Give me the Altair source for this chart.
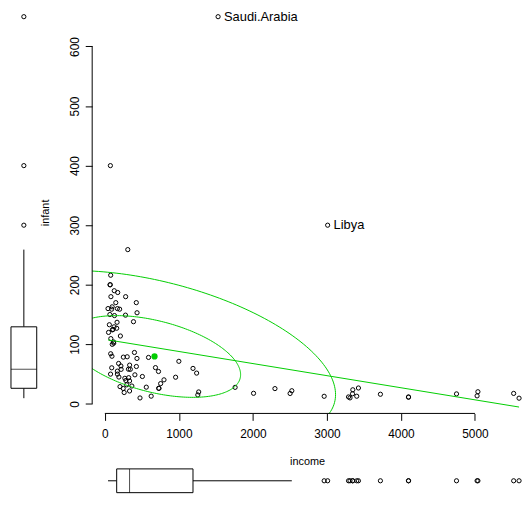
import numpy as np
import pandas as pd
import altair as alt

country = [
    "Australia", "Austria", "Belgium", "Canada", "Denmark", "Finland", "France",
    "West.Germany", "Ireland", "Italy", "Japan", "Netherlands", "New.Zealand",
    "Norway", "Portugal", "Sweden", "Switzerland", "Britain", "United.States",
    "Algeria", "Ecuador", "Indonesia", "Iraq", "Libya", "Nigeria", "Saudi.Arabia",
    "Venezuela",
    "Argentina", "Brazil", "Chile", "Colombia", "Costa.Rica", "Dominican.Republic",
    "El.Salvador", "Guatemala", "Haiti", "Honduras", "Jamaica", "Mexico", "Nicaragua",
    "Panama", "Paraguay", "Peru", "Trinidad.and.Tobago", "Uruguay",
    "Spain", "Greece", "Israel", "Turkey",
    "Afghanistan", "Burma", "Ceylon", "Taiwan", "India", "South.Korea", "Malaysia",
    "Pakistan", "Philippines", "Singapore", "Syria", "Thailand", "Yemen", "Hong.Kong",
    "Jordan", "South.Vietnam",
    "Burundi", "Central.African.Republic", "Chad", "Congo", "Dahomey", "Egypt",
    "Ethiopia", "Guinea", "Ivory.Coast", "Kenya", "Liberia", "Madagascar", "Malawi",
    "Mali", "Mauritania", "Morocco", "Niger", "Rwanda", "Sierra.Leone", "Somalia",
    "South.Africa", "Sudan", "Tanzania", "Togo", "Tunisia", "Uganda", "Upper.Volta",
    "Zaire", "Zambia", "Cameroon", "Ghana", "Lesotho",
    "Botswana", "Senegal", "Gambia", "Lebanon",
]
income = [
    3426, 3350, 3346, 4751, 5029, 3312, 3403,
    5040, 2009, 2298, 3292, 4103, 3723,
    4102, 956, 5596, 2963, 2503, 5523,
    400, 250, 110, 560, 3010, 220, 1530,
    1240,
    1191, 425, 590, 426, 725, 406,
    319, 302, 100, 284, 727, 684, 507,
    754, 334, 335, 732, 799,
    1256, 1760, 2526, 435,
    75, 73, 190, 261, 93, 344, 295,
    102, 186, 1268, 334, 205, 77, 626,
    475, 248,
    68, 127, 43, 281, 81, 210,
    79, 79, 387, 169, 200, 120, 130,
    50, 174, 279, 70, 61, 148, 92,
    1000, 125, 99, 160, 434, 170, 82,
    118, 310, 165, 217, 96,
    270, 322, 170, 365,
]
infant = [
    26.7, 23.7, 17.0, 16.8, 13.5, 10.1, 12.9,
    20.4, 17.8, 25.7, 11.7, 11.6, 16.2,
    11.3, 44.8, 9.6, 12.8, 17.5, 17.6,
    86.3, 78.5, 125.0, 28.1, 300.0, 58.0, 650.0,
    51.7,
    59.6, 170.0, 78.0, 62.8, 54.4, 48.8,
    58.2, 79.1, 100.0, 39.3, 26.2, 60.9, 46.0,
    34.1, 38.6, 65.1, 26.2, 40.4,
    15.1, 27.8, 22.1, 153.0,
    400.0, 200.0, 45.1, 19.1, 60.6, 58.0, 32.0,
    124.3, 67.9, 20.1, 21.7, 29.0, 50.0, 13.0,
    10.0, 26.0,
    150.0, 190.0, 160.0, 180.0, 109.6, 114.0,
    84.2, 216.0, 138.0, 55.0, 159.0, 102.0, 148.3,
    120.0, 187.0, 149.0, 200.0, 132.9, 170.0, 159.0,
    71.5, 129.4, 163.0, 127.0, 76.3, 160.0, 180.0,
    104.0, 259.0, 137.0, 63.7, 80.0,
    43.0, 44.0, 50.0, 30.0,
]

XTICKS = [0, 1000, 2000, 3000, 4000, 5000]
YTICKS = [0, 100, 200, 300, 400, 500, 600]
X_DOMAIN = [-171, 5636]
Y_DOMAIN = [-16, 659]
LEVELS = [0.5, 0.95]
GREEN = "#00CD00"
FONT = "Liberation Sans"
MAIN_W, MAIN_H = 434, 406
BOX_W = 26
BOTTOM_H = 24

df = pd.DataFrame({"country": country, "income": income, "infant": infant})
X = df[["income", "infant"]].to_numpy(float)
n, p = X.shape


def cov_trob(X, nu=5, maxit=25, tol=0.01):
    n, p = X.shape
    wt = np.ones(n)
    loc = X.mean(axis=0)
    w = np.ones(n)
    Xc = X - loc
    for _ in range(maxit):
        w0 = w
        Xc = X - loc
        A = np.sqrt(w / w.sum())[:, None] * Xc
        _, d, Vt = np.linalg.svd(A, full_matrices=False)
        wX = Xc @ Vt.T @ np.diag(1.0 / d)
        Q = (wX ** 2).sum(axis=1)
        w = wt * (nu + p) / (nu + Q)
        loc = (w[:, None] * X).sum(axis=0) / w.sum()
        if np.all(np.abs(w - w0) < tol):
            break
    sw = np.sqrt(w)[:, None] * Xc
    cov = sw.T @ sw / wt.sum()
    return loc, cov


loc, cov = cov_trob(X)
L = np.linalg.cholesky(cov)
t = np.linspace(0, 2 * np.pi, 241)
circle = np.column_stack([np.cos(t), np.sin(t)])
rows = []
for lev in LEVELS:
    fq = (n - 1) / 2.0 * ((1 - lev) ** (-2.0 / (n - 1)) - 1)  # qf(lev, 2, n-1)
    r = np.sqrt(2 * fq)
    pts = loc + r * circle @ L.T
    for k, (a, b) in enumerate(pts):
        rows.append({"level": str(lev), "k": k, "income": a, "infant": b})
ell_df = pd.DataFrame(rows)
cen_df = pd.DataFrame({"income": [loc[0]], "infant": [loc[1]]})

# label the two points farthest from the robust centre
Sinv = np.linalg.inv(cov)
D = np.einsum("ij,jk,ik->i", X - loc, Sinv, X - loc)
top = np.argsort(D)[-2:]
df["label"] = ""
df.loc[top, "label"] = df.loc[top, "country"]

xs = alt.Scale(domain=X_DOMAIN, nice=False, zero=False)
ys = alt.Scale(domain=Y_DOMAIN, nice=False, zero=False)
xaxis = alt.Axis(values=XTICKS, title="income", domain=False, grid=False, tickSize=7,
                 labelFontSize=12, labelPadding=8, titleFontSize=11, titlePadding=17,
                 format="d", labelFlush=False)
yaxis = alt.Axis(values=YTICKS, title="infant", domain=False, grid=False, tickSize=7,
                 labelAngle=-90, labelAlign="center", labelBaseline="middle",
                 labelPadding=11, labelFontSize=12, titleFontSize=11, titlePadding=18,
                 format="d")

X_ENC = alt.X("income:Q", scale=xs, axis=xaxis)
Y_ENC = alt.Y("infant:Q", scale=ys, axis=yaxis)

points = alt.Chart(df).mark_point(shape="circle", filled=False, color="black", size=18,
                                  strokeWidth=1, opacity=1).encode(x=X_ENC, y=Y_ENC)
reg = alt.Chart(df).transform_regression("income", "infant").mark_line(
    color=GREEN, strokeWidth=1).encode(x=X_ENC, y=Y_ENC)
ell = alt.Chart(ell_df).mark_line(color=GREEN, strokeWidth=1, clip=True).encode(
    x=X_ENC, y=Y_ENC, detail="level:N", order="k:Q")
cen = alt.Chart(cen_df).mark_point(shape="circle", filled=True, color=GREEN, size=40,
                                   opacity=1).encode(x=X_ENC, y=Y_ENC)
labels = alt.Chart(df).transform_filter(alt.datum.label != "").mark_text(
    align="left", baseline="middle", dx=6, fontSize=13, font=FONT, color="black"
).encode(x=X_ENC, y=Y_ENC, text="label:N")

xline_df = pd.DataFrame({"a": [min(XTICKS)], "b": [max(XTICKS)], "y": [Y_DOMAIN[0]]})
yline_df = pd.DataFrame({"a": [min(YTICKS)], "b": [max(YTICKS)], "x": [X_DOMAIN[0]]})
xline = alt.Chart(xline_df).mark_rule(color="black", strokeWidth=1).encode(
    x=alt.X("a:Q", scale=xs, axis=xaxis), x2="b:Q", y=alt.Y("y:Q", scale=ys, axis=yaxis))
yline = alt.Chart(yline_df).mark_rule(color="black", strokeWidth=1).encode(
    y=alt.Y("a:Q", scale=ys, axis=yaxis), y2="b:Q", x=alt.X("x:Q", scale=xs, axis=xaxis))

main = alt.layer(points, reg, ell, cen, labels, xline, yline).properties(
    width=MAIN_W, height=MAIN_H)

box_style = dict(
    ticks=False,
    box={"fill": "white", "stroke": "black", "strokeWidth": 1},
    median={"color": "black", "strokeWidth": 1},
    rule={"color": "black", "strokeWidth": 1},
    outliers={"shape": "circle", "filled": False, "color": "black", "size": 18,
              "strokeWidth": 1, "opacity": 1},
)
left = alt.Chart(df).mark_boxplot(size=BOX_W, **box_style).encode(
    y=alt.Y("infant:Q", scale=ys, axis=None)).properties(width=BOX_W, height=MAIN_H)
bottom = alt.Chart(df).mark_boxplot(size=BOTTOM_H, **box_style).encode(
    x=alt.X("income:Q", scale=xs, axis=None)).properties(width=MAIN_W, height=BOTTOM_H)
spacer = alt.Chart(pd.DataFrame({"v": [0]})).mark_point(opacity=0).encode(
    x=alt.value(0), y=alt.value(0)).properties(width=BOX_W, height=BOTTOM_H)

chart = alt.concat(left, main, spacer, bottom, columns=2,
                   spacing={"row": 56, "column": 56}, bounds="flush").properties(
    padding=0
).configure_view(stroke=None).configure_axis(
    labelFont=FONT, titleFont=FONT, labelColor="black", titleColor="black",
    titleFontWeight="normal", tickColor="black"
)

chart.save("out.html", embed_options={"renderer": "svg", "actions": False})
